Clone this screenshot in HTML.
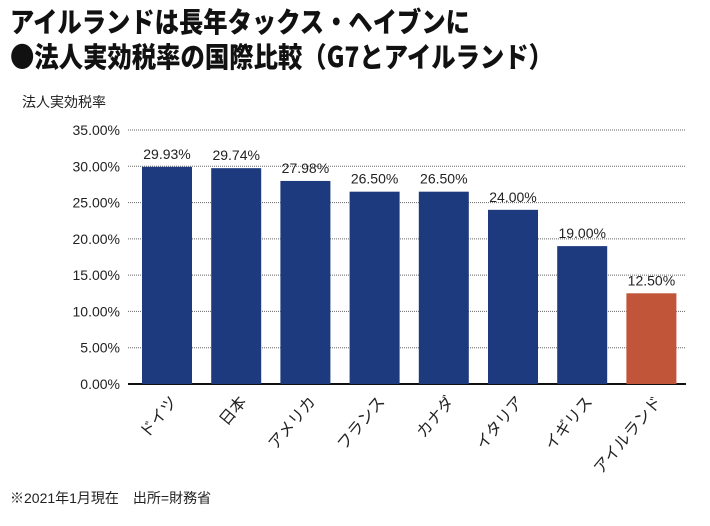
<!DOCTYPE html>
<html><head><meta charset="utf-8"><style>
body{margin:0;background:#fff;width:710px;height:526px;overflow:hidden;font-family:"Liberation Sans","Noto Sans CJK JP",sans-serif}
svg{display:block}
</style></head><body>
<svg width="710" height="526">
<text x="10" y="32" font-size="28" font-weight="900" fill="#111" textLength="460" lengthAdjust="spacingAndGlyphs" font-family="Noto Sans CJK JP, sans-serif">アイルランドは長年タックス・ヘイブンに</text>
<text x="10" y="67" font-size="28" font-weight="900" fill="#111" textLength="543" lengthAdjust="spacingAndGlyphs" font-family="Noto Sans CJK JP, sans-serif">●法人実効税率の国際比較（G7とアイルランド）</text>
<text x="22" y="107" font-size="14" fill="#222">法人実効税率</text>
<g id="grid"></g><g id="bars"></g><g id="labels"></g>
<text x="10" y="503" font-size="14" fill="#222">※2021年1月現在　出所=財務省</text>
</svg>
<script>
const categories=["ドイツ","日本","アメリカ","フランス","カナダ","イタリア","イギリス","アイルランド"];
const values=[29.93,29.74,27.98,26.5,26.5,24.0,19.0,12.5];
const ticks=[0,5,10,15,20,25,30,35];
const NS="http://www.w3.org/2000/svg";
const y=v=>384-v*(254/35);
const x=i=>132+i*69.2;
function mk(t,a,p){const e=document.createElementNS(NS,t);for(const k in a)e.setAttribute(k,a[k]);p.appendChild(e);return e;}
const g=document.getElementById('grid'),b=document.getElementById('bars'),l=document.getElementById('labels');
ticks.forEach(t=>{
 const ln=mk('line',{x1:128,x2:686,y1:y(t),y2:y(t),stroke:t?'#666':'#111','stroke-width':t?1:2,'stroke-dasharray':t?'1 1':'none'},g);
 
 
 const tx=mk('text',{x:120,y:y(t)+5,'font-size':14,'text-anchor':'end',fill:'#222'},g);
 tx.textContent=t.toFixed(2)+'%';
 
 
});
values.forEach((v,i)=>{
 const r=mk('rect',{x:x(i)+10,y:y(v),width:50,height:384-y(v),fill:i==7?'#c0553a':'#1d3a7e'},b);
 
 
 const vt=mk('text',{x:x(i)+35,y:y(v)-8,'font-size':14,'text-anchor':'middle',fill:'#222'},l);
 vt.textContent=v.toFixed(2)+'%';
 
 
 const ct=mk('text',{x:x(i)+46,y:402,'font-size':16,'text-anchor':'end',fill:'#222',transform:`rotate(-50 ${x(i)+46} 402)`},l);
 ct.textContent=categories[i];
 
 
});
</script>
</body></html>
